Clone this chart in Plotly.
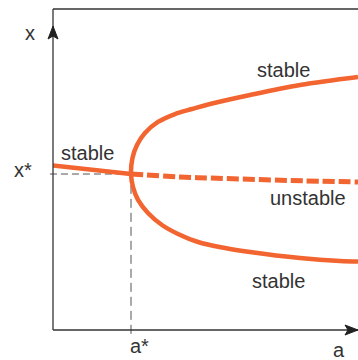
import plotly.graph_objects as go

# Pitchfork-style bifurcation diagram: state x versus parameter a
A_STAR = 1.0
X_STAR = 2.0

# stable branch before the bifurcation
pre_a = [0.0, 1.0]
pre_x = [2.11, 2.0]

# upper stable branch after the bifurcation
upper_a = [1.0, 1.019, 1.077, 1.179, 1.346, 1.564, 1.782, 2.013, 2.526, 3.167, 3.91]
upper_x = [2.0, 2.205, 2.372, 2.526, 2.667, 2.769, 2.833, 2.897, 3.013, 3.141, 3.244]

# lower stable branch after the bifurcation
lower_a = [1.0, 1.026, 1.090, 1.218, 1.397, 1.603, 1.859, 2.205, 2.526, 3.167, 3.679, 3.91]
lower_x = [2.0, 1.833, 1.667, 1.500, 1.346, 1.231, 1.128, 1.051, 1.000, 0.923, 0.885, 0.878]

# unstable continuation of the original branch
unstable_a = [1.0, 1.628, 2.205, 3.038, 3.91]
unstable_x = [2.0, 1.962, 1.942, 1.917, 1.897]

region_labels = ["stable", "stable", "unstable", "stable"]
region_a = [0.444, 2.949, 3.263, 2.891]
region_x = [2.269, 3.333, 1.692, 0.628]

axis_names = ["x", "a"]
tick_names = ["x*", "a*"]

ORANGE = "#F26430"
INK = "#333333"
FONT = "Liberation Sans, Arial, Helvetica, sans-serif"

X_MAX = 305 / 78
Y_MAX = 321 / 78

fig = go.Figure()

# stable: before bifurcation
fig.add_trace(go.Scatter(x=pre_a, y=pre_x, mode="lines",
                         line=dict(color=ORANGE, width=4.5), hoverinfo="skip"))
# unstable continuation
fig.add_trace(go.Scatter(x=unstable_a, y=unstable_x, mode="lines",
                         line=dict(color=ORANGE, width=5, dash="12px,4px", shape="spline"),
                         hoverinfo="skip"))
# both stable branches as one smooth C-shaped curve
branch_a = lower_a[::-1] + upper_a[1:]
branch_x = lower_x[::-1] + upper_x[1:]
fig.add_trace(go.Scatter(x=branch_a, y=branch_x, mode="lines",
                         line=dict(color=ORANGE, width=4.5, shape="spline", smoothing=1),
                         hoverinfo="skip"))

shapes = [
    # guide lines to the bifurcation point
    dict(type="line", xref="paper", yref="y", x0=-0.01, x1=(A_STAR * 78) / 305,
         y0=X_STAR, y1=X_STAR, line=dict(color="#555555", width=1, dash="7px,4px"), layer="below"),
    dict(type="line", xref="x", yref="paper", x0=A_STAR, x1=A_STAR,
         y0=-0.012, y1=(X_STAR * 78) / 321,
         line=dict(color="#555555", width=1, dash="9px,5px"), layer="below"),
    # frame top and axes
    dict(type="line", xref="paper", yref="paper", x0=0, x1=1, y0=1, y1=1,
         line=dict(color=INK, width=1.3)),
    dict(type="line", xref="paper", yref="paper", x0=0, x1=0, y0=0, y1=1,
         line=dict(color=INK, width=1.3)),
    dict(type="line", xref="paper", yref="paper", x0=0, x1=1, y0=0, y1=0,
         line=dict(color=INK, width=1.3)),
    # arrow heads
    dict(type="path", xref="paper", yref="paper", xsizemode="pixel", ysizemode="pixel",
         xanchor=0, yanchor=1, path="M0,-17 L-5,-30 L0,-27 L5,-30 Z",
         fillcolor="#222222", line=dict(color="#222222", width=1)),
    dict(type="path", xref="paper", yref="paper", xsizemode="pixel", ysizemode="pixel",
         xanchor=1, yanchor=0, path="M0,0 L-13,5 L-10,0 L-13,-5 Z",
         fillcolor="#222222", line=dict(color="#222222", width=1)),
]

annotations = []
for txt, a, x in zip(region_labels, region_a, region_x):
    annotations.append(dict(x=a, y=x, xref="x", yref="y", text=txt, showarrow=False,
                            xanchor="center", yanchor="middle",
                            font=dict(family=FONT, size=20, color=INK)))

# axis names and the marked values
label_pos = [
    (axis_names[0], (30 - 53) / 305, (330 - 33) / 321),
    (axis_names[1], (339 - 53) / 305, (330 - 350) / 321),
    (tick_names[0], (23 - 53) / 305, (330 - 170) / 321),
    (tick_names[1], (139 - 53) / 305, (330 - 346) / 321),
]
for txt, px, py in label_pos:
    annotations.append(dict(x=px, y=py, xref="paper", yref="paper", text=txt, showarrow=False,
                            xanchor="center", yanchor="middle",
                            font=dict(family=FONT, size=20, color=INK)))

fig.update_layout(
    width=358, height=360,
    margin=dict(l=53, r=0, t=9, b=30),
    paper_bgcolor="white", plot_bgcolor="white",
    showlegend=False,
    xaxis=dict(range=[0, X_MAX], visible=False, fixedrange=True),
    yaxis=dict(range=[0, Y_MAX], visible=False, fixedrange=True),
    shapes=shapes,
    annotations=annotations,
)

fig.write_html("out.html", config={"displayModeBar": False})
